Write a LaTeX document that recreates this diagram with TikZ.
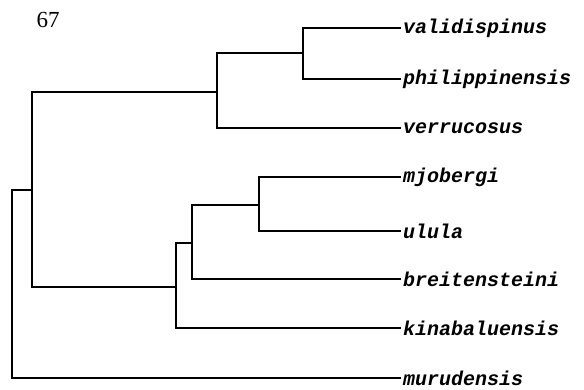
\documentclass[tikz,border=0pt]{standalone}
\usepackage{fontspec}
\setmainfont{Liberation Serif}
\newfontfamily\leaffont[BoldItalicFont={Liberation Mono Bold Italic}]{Liberation Mono}
\begin{document}
\begin{tikzpicture}[x=1pt,y=-1pt,
  branch/.style={line width=2.1pt, line join=miter, line cap=rect},
  leaf/.style={anchor=west, inner sep=3pt, font=\fontsize{20}{22}\leaffont\bfseries\itshape}]
\useasboundingbox (0,0) rectangle (584,390);
\node[font=\fontsize{23}{25}\selectfont] (num) at (48,20) {67};
% leaves
\node[leaf] (vali) at (400,28) {validispinus};
\node[leaf] (phil) at (400,79) {philippinensis};
\node[leaf] (verr) at (400,128) {verrucosus};
\node[leaf] (mjob) at (400,177) {mjobergi};
\node[leaf] (ulul) at (400,231) {ulula};
\node[leaf] (brei) at (400,279) {breitensteini};
\node[leaf] (kina) at (400,328) {kinabaluensis};
\node[leaf] (muru) at (400,378) {murudensis};
% internal nodes
\coordinate (n1) at (303,53);
\coordinate (n2) at (217,92);
\coordinate (n3) at (259,205);
\coordinate (n4) at (192,243);
\coordinate (n5) at (176,287);
\coordinate (n6) at (32,190);
\coordinate (rt) at (12,284);
% branches
\draw[branch] (vali.west) -| (n1) |- (phil.west);
\draw[branch] (n1) -| (n2) |- (verr.west);
\draw[branch] (mjob.west) -| (n3) |- (ulul.west);
\draw[branch] (n3) -| (n4) |- (brei.west);
\draw[branch] (n4) -| (n5) |- (kina.west);
\draw[branch] (n2) -| (n6) |- (n5);
\draw[branch] (n6) -| (rt) |- (muru.west);
\end{tikzpicture}
\end{document}
